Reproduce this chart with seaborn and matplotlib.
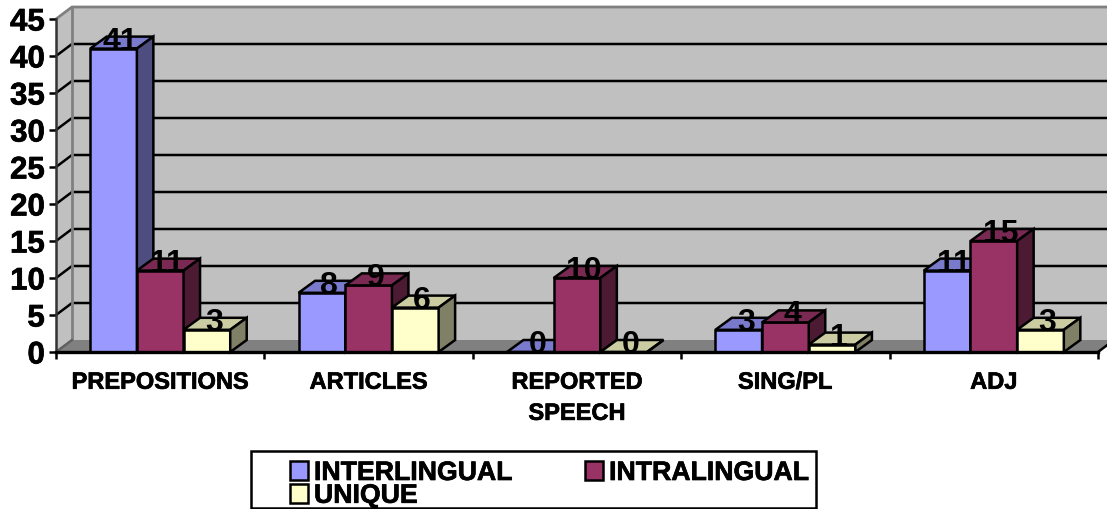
import pandas as pd
import seaborn as sns
import matplotlib.pyplot as plt
import matplotlib.patheffects as pe
from matplotlib.patches import Polygon, Rectangle, Patch

CATEGORIES = ["PREPOSITIONS", "ARTICLES", "REPORTED\nSPEECH", "SING/PL", "ADJ"]
SERIES = ["INTERLINGUAL", "INTRALINGUAL", "UNIQUE"]
INTERLINGUAL = [41, 8, 0, 3, 11]
INTRALINGUAL = [11, 9, 10, 4, 15]
UNIQUE = [3, 6, 0, 1, 3]

FRONT = ["#9999FF", "#993366", "#FFFFCC"]
TOP = ["#7A7ACC", "#7A2952", "#CCCCA3"]
SIDE = ["#4D4D80", "#4D1A33", "#808066"]
YTICKS = [0, 5, 10, 15, 20, 25, 30, 35, 40, 45]

W, H = 1107, 510
# 3D depth in pixels
WALL_DX, WALL_DY = 16, 12
BAR_DX, BAR_DY = 16.5, 12
LW = 1.8

sns.set_style("white")
plt.rcParams['font.family'] = ['Liberation Sans', 'DejaVu Sans']
plt.rcParams['font.weight'] = 'bold'
plt.rcParams['text.color'] = 'black'
plt.rcParams['xtick.labelcolor'] = 'black'
plt.rcParams['ytick.labelcolor'] = 'black'
heavy = [pe.withStroke(linewidth=0.5, foreground="black")]

df = pd.DataFrame({
    "category": CATEGORIES * 3,
    "series": [s for s in SERIES for _ in CATEGORIES],
    "value": INTERLINGUAL + INTRALINGUAL + UNIQUE,
})

fig = plt.figure(figsize=(W / 100, H / 100), dpi=100, facecolor="white")
ax = fig.add_axes([56 / W, 1 - 353 / H, (1098 - 56) / W, (353 - 20) / H])
ax.patch.set_visible(False)

sns.barplot(data=df, x="category", y="value", hue="series", hue_order=SERIES,
            order=CATEGORIES, palette=FRONT, width=0.672, saturation=1,
            edgecolor="black", linewidth=LW, legend=False, ax=ax)
ax.set_xlim(-0.5, 4.5)
ax.set_ylim(0, 45)
ax.set_xlabel("")
ax.set_ylabel("")

ux = (1098 - 56) / 5
uy = (353 - 20) / 45
wx, wy = WALL_DX / ux, WALL_DY / uy
bx, by = BAR_DX / ux, BAR_DY / uy

# walls and floor
x0, x1 = -0.5, 4.5
ax.add_patch(Polygon([(x0 + wx, wy), (x1 + wx, wy), (x1 + wx, 45 + wy), (x0 + wx, 45 + wy)],
                     fc="#C0C0C0", ec="none", clip_on=False, zorder=0.1))
ax.add_patch(Polygon([(x0, 0), (x0 + wx, wy), (x0 + wx, 45 + wy), (x0, 45)],
                     fc="#C0C0C0", ec="none", clip_on=False, zorder=0.1))
ax.add_patch(Polygon([(x0, 0), (x1, 0), (x1 + wx, wy), (x0 + wx, wy)],
                     fc="#808080", ec="none", clip_on=False, zorder=0.2))
for v in YTICKS[1:-1]:
    ax.plot([x0, x0 + wx, x1 + wx], [v, v + wy, v + wy], color="black", lw=LW,
            clip_on=False, zorder=0.3, solid_joinstyle="miter")
ax.plot([x0, x0 + wx, x1 + wx], [45, 45 + wy, 45 + wy], color="#808080", lw=2,
        clip_on=False, zorder=0.4, solid_joinstyle="miter")
ax.plot([x0 + wx, x0 + wx], [wy, 45 + wy], color="#808080", lw=2, clip_on=False, zorder=0.4)
ax.plot([x0, x0 + wx], [0, wy], color="#606060", lw=LW, clip_on=False, zorder=0.4)
ax.plot([x1, x1 + wx], [0, wy], color="black", lw=LW, clip_on=False, zorder=0.4)

# bars, left to right so each one covers the side of the previous one
bars = []
for s, cont in enumerate(ax.containers):
    for p in cont.patches:
        bars.append((p.get_x(), s, p))
bars.sort(key=lambda b: b[0])

for i, (left, s, p) in enumerate(bars):
    z = 1 + i * 0.01
    w, h = p.get_width(), p.get_height()
    p.set_zorder(z)
    p.set_clip_on(False)
    edge = dict(ec="black", lw=LW, clip_on=False, zorder=z, joinstyle="miter")
    ax.add_patch(Polygon([(left, h), (left + w, h), (left + w + bx, h + by), (left + bx, h + by)],
                         fc=TOP[s], **edge))
    ax.add_patch(Polygon([(left + w, 0), (left + w + bx, by), (left + w + bx, h + by), (left + w, h)],
                         fc=SIDE[s], **edge))
    ax.annotate(f"{h:.0f}", (left + w / 2, h), xytext=(5, 0), textcoords="offset points",
                ha="center", va="baseline", fontsize=23, fontweight="bold", color="black",
                annotation_clip=False, zorder=5)

# axes
sns.despine(ax=ax, top=True, right=True)
ax.spines["left"].set_linewidth(LW)
ax.spines["left"].set_color("#333333")
ax.spines["bottom"].set_linewidth(2.4)
ax.spines["bottom"].set_color("black")
ax.spines["bottom"].set_zorder(6)
ax.set_yticks(YTICKS)
ax.tick_params(axis="y", left=True, length=5, width=LW, pad=3, labelsize=22.5, color="black")
ax.set_xticks([-0.5, 0.5, 1.5, 2.5, 3.5, 4.5], minor=True)
ax.tick_params(axis="x", which="minor", bottom=True, length=5, width=LW, color="black")
ax.tick_params(axis="x", which="major", bottom=False, pad=10, labelsize=17)
for t in ax.get_xticklabels():
    t.set_linespacing(1.45)
    t.set_path_effects(heavy)
for t in ax.get_yticklabels():
    t.set_path_effects(heavy)

# legend, column fill so UNIQUE lands under INTERLINGUAL
order = [0, 2, 1]
handles = [Patch(fc=FRONT[i], ec="black", lw=LW, label=SERIES[i]) for i in order]
fig.add_artist(Rectangle((251 / W, 1 - 509 / H), (816 - 251) / W, (509 - 452) / H,
                         transform=fig.transFigure, fc="white", ec="black", lw=LW))
leg = fig.legend(handles=handles, ncol=2, loc="upper left", bbox_to_anchor=(290 / W, 1 - 461 / H),
                 frameon=False, borderpad=0, borderaxespad=0, labelspacing=-0.12,
                 handlelength=0.68, handleheight=0.68, handletextpad=0.22, columnspacing=2.75,
                 prop={"weight": "bold", "size": 19.2})
for t in leg.get_texts():
    t.set_path_effects(heavy)

fig.savefig("out.png", dpi=100)
